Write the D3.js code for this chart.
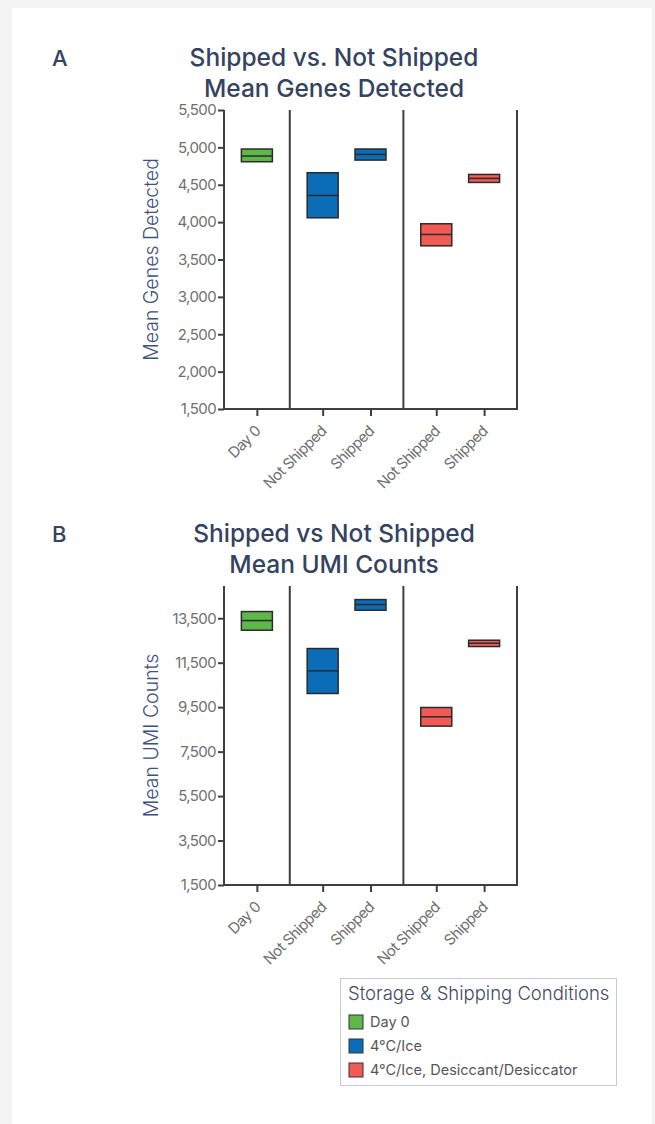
<!DOCTYPE html>
<html>
<head>
<meta charset="utf-8">
<script src="https://cdn.jsdelivr.net/npm/d3@7"></script>
<style>
  html, body { margin: 0; padding: 0; background: #f3f3f3; }
  svg { display: block; }
  text { font-family: Inter, "Open Sans", sans-serif; }
</style>
</head>
<body>
<svg id="chart" width="655" height="1124"></svg>
<script>
// Groups (facets) and the categories inside each group
const groups = ["Day 0", "4°C/Ice", "4°C/Ice, Desiccant/Desiccator"];
const categories = [
  { group: "Day 0", label: "Day 0" },
  { group: "4°C/Ice", label: "Not Shipped" },
  { group: "4°C/Ice", label: "Shipped" },
  { group: "4°C/Ice, Desiccant/Desiccator", label: "Not Shipped" },
  { group: "4°C/Ice, Desiccant/Desiccator", label: "Shipped" }
];
const groupColors = ["#5cb947", "#0b6cb8", "#f15a55"];

// Mean genes detected: low / mean / high per category
const genesLow  = [4808, 4058, 4830, 3683, 4531];
const genesMid  = [4884, 4357, 4906, 3835, 4585];
const genesHigh = [4978, 4661, 4978, 3978, 4638];
const genesTicks = [1500, 2000, 2500, 3000, 3500, 4000, 4500, 5000, 5500];

// Mean UMI counts: low / mean / high per category
const umiLow  = [12961, 10114, 13860, 8646, 12227];
const umiMid  = [13395, 11133, 14114, 9066, 12376];
const umiHigh = [13800, 12137, 14339, 9485, 12511];
const umiTicks = [1500, 3500, 5500, 7500, 9500, 11500, 13500];

const svg = d3.select("#chart");

// card
svg.append("rect").attr("x", 12).attr("y", 8).attr("width", 640).attr("height", 1124)
  .attr("fill", "#ffffff");

const navy = "#34435f";
const axisColor = "#3f3f3f";
const tickText = "#6f6f6f";
const fmt = d3.format(",");

function drawPanel(opts) {
  const { top, letter, title1, title2, yLabel, yDomain, ticks, low, mid, high } = opts;
  const g = svg.append("g");
  const left = 224, right = 517;
  const plotTop = top + 110, plotBottom = top + 409;

  // letter and title
  g.append("text").attr("x", 52).attr("y", top + 66).attr("font-size", 22)
    .attr("font-weight", 500).attr("fill", navy).text(letter);
  g.append("text").attr("x", 334).attr("y", top + 66).attr("text-anchor", "middle")
    .attr("font-size", 24.5).attr("font-weight", 500).attr("fill", navy).text(title1);
  g.append("text").attr("x", 334).attr("y", top + 97).attr("text-anchor", "middle")
    .attr("font-size", 24.5).attr("font-weight", 500).attr("fill", navy).text(title2);

  // facet widths: 66 px for the first slot, 48 px per extra category
  const counts = groups.map(gr => categories.filter(c => c.group === gr).length);
  const weights = counts.map(n => 66 + 48 * (n - 1));
  const total = d3.sum(weights);
  const facetX = d3.scaleLinear().domain([0, total]).range([left, right]);
  let acc = 0;
  const facets = groups.map((gr, i) => {
    const x0 = facetX(acc); acc += weights[i]; const x1 = facetX(acc);
    const cats = categories.map((c, j) => ({ ...c, idx: j })).filter(c => c.group === gr);
    const sc = d3.scalePoint().domain(cats.map(c => c.idx)).range([x0, x1])
      .padding(cats.length > 1 ? 0.6875 : 0.5);
    return { x0, x1, cats, sc };
  });

  const y = d3.scaleLinear().domain(yDomain).range([plotBottom, plotTop]);

  // y axis
  const yAxis = g.append("g").attr("transform", `translate(${left},0)`)
    .call(d3.axisLeft(y).tickValues(ticks).tickFormat(fmt).tickSize(6).tickPadding(2));
  yAxis.select(".domain").attr("stroke", axisColor).attr("stroke-width", 2)
    .attr("d", `M0,${plotTop}V${plotBottom}`);
  yAxis.selectAll(".tick line").attr("stroke", axisColor).attr("stroke-width", 2);
  yAxis.selectAll(".tick text").attr("fill", tickText).attr("font-size", 15)
    .attr("font-family", "Inter, sans-serif").attr("letter-spacing", -0.6);

  // y label
  g.append("text")
    .attr("transform", `translate(${158},${(plotTop + plotBottom) / 2}) rotate(-90)`)
    .attr("text-anchor", "middle").attr("font-size", 19.5).attr("font-weight", 300)
    .attr("fill", "#3d5080").text(yLabel);

  // facet separators and right frame
  facets.forEach((f, i) => {
    if (i > 0) g.append("line").attr("x1", f.x0).attr("x2", f.x0)
      .attr("y1", plotTop).attr("y2", plotBottom).attr("stroke", axisColor).attr("stroke-width", 2);
  });
  g.append("line").attr("x1", right).attr("x2", right).attr("y1", plotTop).attr("y2", plotBottom)
    .attr("stroke", axisColor).attr("stroke-width", 2);

  // x axis baseline
  g.append("line").attr("x1", left - 1).attr("x2", right + 1).attr("y1", plotBottom).attr("y2", plotBottom)
    .attr("stroke", axisColor).attr("stroke-width", 2);

  // x ticks and labels
  facets.forEach(f => {
    const ax = g.append("g").attr("transform", `translate(0,${plotBottom})`)
      .call(d3.axisBottom(f.sc).tickSize(7).tickFormat(i => categories[i].label));
    ax.select(".domain").remove();
    ax.selectAll(".tick line").attr("stroke", axisColor).attr("stroke-width", 2);
    ax.selectAll(".tick text").attr("fill", tickText).attr("font-size", 15)
      .attr("font-family", "Inter, sans-serif").attr("letter-spacing", -0.6)
      .attr("text-anchor", "end").attr("dy", 0)
      .attr("transform", "translate(-3,16) rotate(-45)");
  });

  // boxes
  const boxW = 31;
  facets.forEach((f, gi) => {
    f.cats.forEach(c => {
      const cx = f.sc(c.idx);
      g.append("rect").attr("x", cx - boxW / 2).attr("y", y(high[c.idx]))
        .attr("width", boxW).attr("height", y(low[c.idx]) - y(high[c.idx]))
        .attr("fill", groupColors[gi]).attr("stroke", "#2b2b2b").attr("stroke-width", 1.5);
      g.append("line").attr("x1", cx - boxW / 2).attr("x2", cx + boxW / 2)
        .attr("y1", y(mid[c.idx])).attr("y2", y(mid[c.idx]))
        .attr("stroke", "#2b2b2b").attr("stroke-width", 1.5);
    });
  });
}

drawPanel({
  top: 0, letter: "A", title1: "Shipped vs. Not Shipped", title2: "Mean Genes Detected",
  yLabel: "Mean Genes Detected", yDomain: [1500, 5500], ticks: genesTicks,
  low: genesLow, mid: genesMid, high: genesHigh
});
drawPanel({
  top: 476, letter: "B", title1: "Shipped vs Not Shipped", title2: "Mean UMI Counts",
  yLabel: "Mean UMI Counts", yDomain: [1500, 14950], ticks: umiTicks,
  low: umiLow, mid: umiMid, high: umiHigh
});

// legend
const lg = svg.append("g");
lg.append("rect").attr("x", 340.5).attr("y", 978.5).attr("width", 276).attr("height", 107)
  .attr("fill", "#ffffff").attr("stroke", "#c9c9d9").attr("stroke-width", 1);
lg.append("text").attr("x", 348).attr("y", 1000).attr("font-size", 18.5).attr("font-weight", 300)
  .attr("fill", "#3f4a66").text("Storage & Shipping Conditions");
groups.forEach((gr, i) => {
  const yy = 1015 + i * 24;
  lg.append("rect").attr("x", 349).attr("y", yy).attr("width", 14).attr("height", 14)
    .attr("fill", groupColors[i]).attr("stroke", "#333").attr("stroke-width", 1);
  lg.append("text").attr("x", 370).attr("y", yy + 12).attr("font-size", 14.5)
    .attr("fill", "#555").text(gr);
});
</script>
</body>
</html>
